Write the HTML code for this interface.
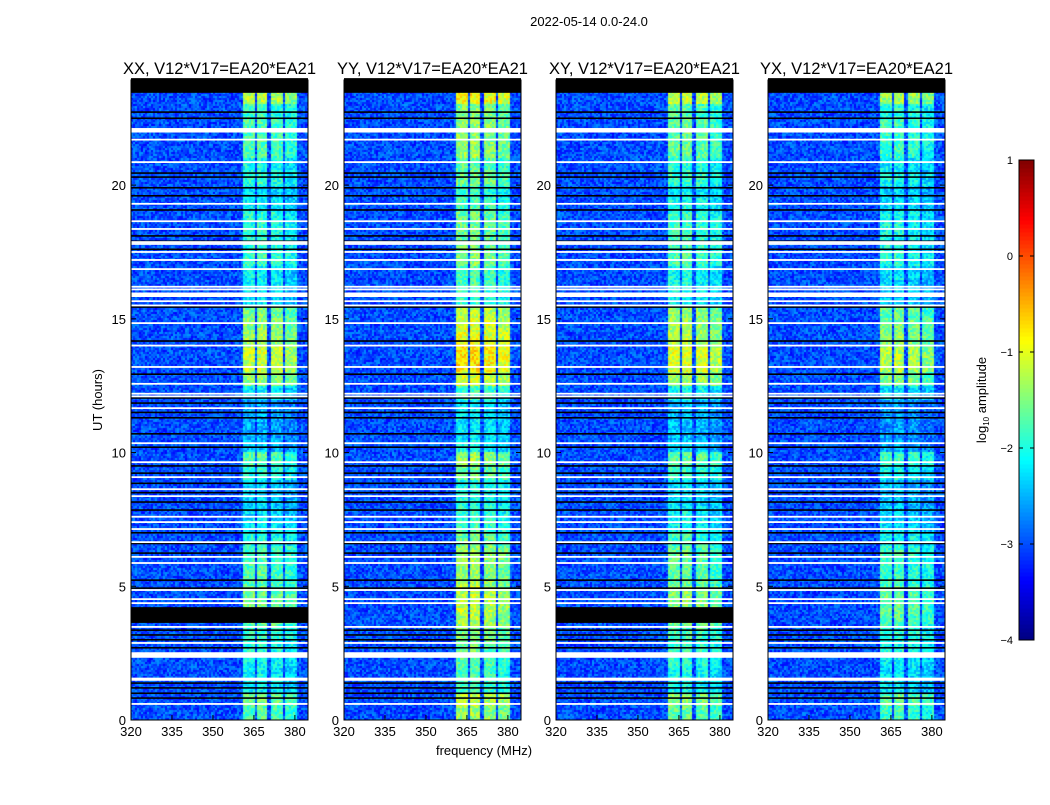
<!DOCTYPE html>
<html><head><meta charset="utf-8"><style>
body{margin:0;background:#fff;width:1050px;height:800px;overflow:hidden;font-family:"Liberation Sans",sans-serif}
svg text{font-family:"Liberation Sans",sans-serif}
</style></head><body>
<svg id="fig" width="1050" height="800" xmlns="http://www.w3.org/2000/svg">
<text x="589" y="26" font-size="13" text-anchor="middle">2022-05-14 0.0-24.0</text>
<text x="0" y="0" font-size="13" text-anchor="middle" transform="translate(102,400) rotate(-90)">UT (hours)</text>
<text x="484" y="755" font-size="13" text-anchor="middle">frequency (MHz)</text>
<g id="panels"></g>
<g id="cbar"></g>
<text font-size="13" text-anchor="middle" transform="translate(986,400) rotate(-90)">log<tspan font-size="8" dy="3">10</tspan><tspan dy="-3"> amplitude</tspan></text>
</svg>
<script>
const panelTitles=["XX, V12*V17=EA20*EA21","YY, V12*V17=EA20*EA21","XY, V12*V17=EA20*EA21","YX, V12*V17=EA20*EA21"];
const panelLeft=[131,344,556,768];
const panelGain=[0,0.35,0.1,-0.1];
const panelHasBlock=[true,false,true,false];
// band activity per 0.5h bin (0..24), log10 amplitude
const bandActivity=[-1.8,-1.6,-2.2,-2.2,-2.1,-2.0,-1.9,-1.7,-1.6,-1.6,-1.8,-1.8,-1.8,-2.0,-2.2,-2.3,-2.4,-2.4,-2.0,-1.8,-2.5,-2.6,-2.6,-2.6,-2.2,-1.5,-1.2,-1.2,-1.4,-1.5,-1.6,-2.3,-2.2,-2.2,-1.9,-2.0,-2.0,-2.0,-2.2,-2.3,-2.0,-2.1,-1.8,-1.8,-1.8,-1.9,-1.3,-1.3];
const bands=[[361,365.5],[366,370],[371,375.5],[376.5,381]];
const bandOffset=[0.05,0.1,0,-0.15];
const background=-3.0;
const blackLines=[22.73,22.5,20.45,20.3,19.9,19.6,19.07,18.1,17.9,17.6,15.44,14.17,12.93,12.04,11.85,11.5,11.3,10.7,10.2,9.5,9.23,8.85,8.5,8.15,7.85,7.0,6.6,6.24,5.23,4.93,3.36,3.18,3.0,2.7,1.38,1.2,1.0,0.82];
const whiteLines=[22.1,22.05,22.0,21.7,20.86,19.3,18.65,18.36,17.87,17.8,17.5,17.2,16.86,16.2,16.1,15.95,15.9,15.85,15.66,15.5,14.84,14.0,13.2,12.57,12.2,12.1,11.66,10.35,9.64,9.08,8.63,8.37,7.6,7.4,7.14,6.65,6.1,5.87,4.86,4.52,4.37,3.48,2.88,2.5,2.45,2.4,2.36,1.55,1.5,0.6];
const topBlock=[23.45,24];
const midBlock=[3.63,4.22];
const xTicks=[320,335,350,365,380];
const yTicks=[0,5,10,15,20];
const cbTicks=[1,0,-1,-2,-3,-4];
const NS="http://www.w3.org/2000/svg";
const PW=177,PT=80,PB=720,FMIN=320,FMAX=384.8,TMAX=23.93;
const fx=(f,l)=>l+(f-FMIN)/(FMAX-FMIN)*PW;
const ty=t=>PB-t/TMAX*(PB-PT);
function jet(v){let f=Math.max(0,Math.min(1,(v+4)/5));
 const c=x=>Math.max(0,Math.min(1,1.5-Math.abs(4*f-x)));
 return [c(3),c(2),c(1)].map(x=>Math.round(x*255));}
function el(tag,attrs,parent){const e=document.createElementNS(NS,tag);for(const k in attrs)e.setAttribute(k,attrs[k]);parent.appendChild(e);return e;}
function hash(a,b){let h=(a*374761393+b*668265263)|0;h=(h^(h>>>13))*1274126177|0;return ((h^(h>>>16))>>>0)/4294967296;}
const panelsG=document.getElementById('panels');
panelTitles.forEach((title,p)=>{
 const L=panelLeft[p];
 const g=el('g',{},panelsG);
 
 
 const fo=el('foreignObject',{x:L,y:PT,width:PW,height:PB-PT},g);
 const cv=document.createElement('canvas');cv.width=PW;cv.height=PB-PT;
 
 
 cv.style.display='block';fo.appendChild(cv);
 const ctx=cv.getContext('2d');const img=ctx.createImageData(PW,PB-PT);
 for(let py=0;py<PB-PT;py+=2){
  const t=(PB-(PT+py+1))/(PB-PT)*TMAX;
  const bi=Math.min(bandActivity.length-1,Math.max(0,Math.floor(t*2)));
  for(let px=0;px<PW;px+=2){
   const f=FMIN+(px+1)/PW*(FMAX-FMIN);
   let v=background;
   bands.forEach((b,k)=>{if(f>=b[0]&&f<=b[1])v=Math.max(v,bandActivity[bi]+panelGain[p]+bandOffset[k]);});
   v+=(hash(px+p*999,py)-0.5)*0.75;
   const [r,gg,bb]=jet(v);
   for(let dy=0;dy<2;dy++)for(let dx=0;dx<2;dx++){const i=((py+dy)*PW+px+dx)*4;img.data[i]=r;img.data[i+1]=gg;img.data[i+2]=bb;img.data[i+3]=255;}
  }}
 ctx.putImageData(img,0,0);
 blackLines.forEach(t=>{const r=el('rect',{x:L,y:ty(t)-0.8,width:PW,height:1.6,fill:'#000'},g);
  
  });
 whiteLines.forEach(t=>{const r=el('rect',{x:L,y:ty(t)-0.9,width:PW,height:1.8,fill:'#fff'},g);
  
  });
 const tb=el('rect',{x:L,y:ty(topBlock[1]),width:PW,height:ty(topBlock[0])-ty(topBlock[1]),fill:'#000'},g);
 
 
 if(panelHasBlock[p]){const mb=el('rect',{x:L,y:ty(midBlock[1]),width:PW,height:ty(midBlock[0])-ty(midBlock[1]),fill:'#000'},g);
  
  }
 const fr=el('rect',{x:L,y:PT,width:PW,height:PB-PT,fill:'none',stroke:'#000','stroke-width':1},g);
 
 
 const tt=el('text',{x:L+PW/2,y:74,'font-size':16.5,'text-anchor':'middle'},g);tt.textContent=title;
 
 
 xTicks.forEach(v=>{const x=fx(v,L);
  el('line',{x1:x,x2:x,y1:PB,y2:PB-5,stroke:'#000'},g);el('line',{x1:x,x2:x,y1:PT,y2:PT+5,stroke:'#000'},g);
  const tx=el('text',{x:x,y:PB+16,'font-size':13,'text-anchor':'middle'},g);tx.textContent=v;
  
  });
 yTicks.forEach(v=>{const y=ty(v);
  el('line',{x1:L,x2:L+5,y1:y,y2:y,stroke:'#000'},g);el('line',{x1:L+PW,x2:L+PW-5,y1:y,y2:y,stroke:'#000'},g);
  const tx=el('text',{x:L-5,y:y+5,'font-size':13,'text-anchor':'end'},g);tx.textContent=v;
  
  });
});
// colorbar
const cb=document.getElementById('cbar');const CX=1019,CW=15,CT=160,CB=640;
const cby=v=>CB-(v+4)/5*(CB-CT);
for(let i=0;i<120;i++){const v0=-4+i*5/120;const c=jet(v0+5/240);
 el('rect',{x:CX,y:cby(v0+5/120),width:CW,height:(CB-CT)/120+0.5,fill:`rgb(${c})`},cb);}
el('rect',{x:CX,y:CT,width:CW,height:CB-CT,fill:'none',stroke:'#000'},cb);
cbTicks.forEach(v=>{const y=cby(v);el('line',{x1:CX,x2:CX+4,y1:y,y2:y,stroke:'#000'},cb);el('line',{x1:CX+CW,x2:CX+CW-4,y1:y,y2:y,stroke:'#000'},cb);
 const t=el('text',{x:CX-6,y:y+4,'font-size':11,'text-anchor':'end'},cb);t.textContent=v<0?'\u2212'+(-v):v;
 
 });
</script>
</body></html>
